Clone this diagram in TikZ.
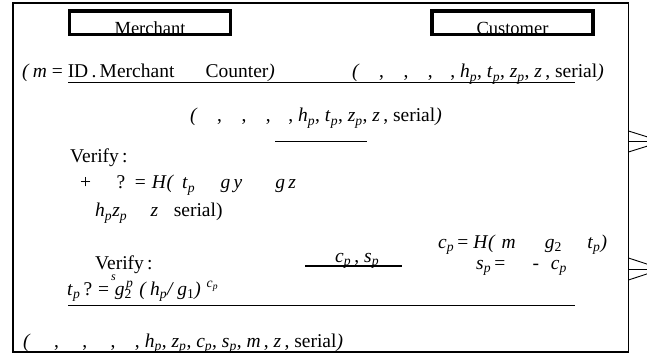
\documentclass[tikz,border=0pt]{standalone}
\usepackage{fontspec}
\setmainfont{Liberation Serif}
\newcommand{\vi}[1]{\textit{#1}}
\newcommand{\vs}[2]{\textit{#1}\textsubscript{\textit{#2}}}
\newcommand{\tuplerow}{\vi{(}\hspace{1.0em},\hspace{1.0em},\hspace{1.0em},\hspace{0.9em}, \vs{h}{p}, \vs{t}{p}, \vs{z}{p}, \vi{z}\,, serial\vi{)}}
\begin{document}
\begin{tikzpicture}[x=1pt,y=-1pt,
  lbl/.style={inner sep=0pt, anchor=base west, font=\fontsize{19.5}{22}\selectfont},
  smalllbl/.style={inner sep=0pt, anchor=base west, font=\fontsize{12}{13}\selectfont},
  rolebox/.style={draw, line width=3.5pt, minimum width=161pt, minimum height=23.5pt, inner sep=0pt},
  roletext/.style={inner sep=0pt, anchor=base, font=\fontsize{18.5}{20}\selectfont},
  msgline/.style={line width=1.4pt},
  tipline/.style={line width=0.9pt}]
\useasboundingbox (0,0) rectangle (647,355);
\clip (0,0) rectangle (647,355);
% frame
\draw[line width=1.1pt] (13,3) rectangle (628.5,352);
\draw[line width=2pt] (13,3) -- (13,352);
\draw[line width=1.6pt] (13,352) -- (628.5,352);
% roles
\node[rolebox] (merchant) at (150,23) {};
\node[roletext] (merchanttxt) at (150,34.5) {Merchant};
\node[rolebox] (customer) at (512.5,23) {};
\node[roletext] (customertxt) at (512.5,34.5) {Customer};
% row 1
\node[lbl] (r1l) at (22,78) {\vi{(}\,\vi{m} = ID\,.\,Merchant\hspace{1.6em}Counter\vi{)}};
\node[lbl] (r1r) at (352,78) {\tuplerow};
\coordinate (l1a) at (68,82.5);
\coordinate (l1b) at (575,82.5);
\draw[msgline] (l1a) -- (l1b);
% row 2
\node[lbl] (r2) at (190,122) {\tuplerow};
\coordinate (l2a) at (275,141.5);
\coordinate (l2b) at (367,141.5);
\draw[msgline] (l2a) -- (l2b);
% verify 1
\node[lbl] (v1) at (70,163) {Verify\,:};
\node[lbl] (v1a) at (80,189) {+\hspace{1.3em}?\hspace{0.5em}=\hspace{0.3em}\vi{H}\vi{(}\hspace{0.4em}\vs{t}{p}\hspace{1.3em}\vi{g}\,\vi{y}\hspace{1.7em}\vi{g}\,\vi{z}};
\node[lbl] (v1b) at (95,217) {\vs{h}{p}\vs{z}{p}\hspace{1.2em}\vi{z}\hspace{0.8em}serial)};
% signature message
\node[lbl] (cpsp) at (335,262) {\vs{c}{p}\,, \vs{s}{p}};
\coordinate (l3a) at (305,266);
\coordinate (l3b) at (402,266);
\draw[msgline] (l3a) -- (l3b);
\node[lbl] (cp) at (438,248) {\vs{c}{p}\,= \vi{H}\vi{(}\hspace{0.3em}\vi{m}\hspace{1.5em}\vi{g}\textsubscript{2}\hspace{1.3em}\vs{t}{p}\vi{)}};
\node[lbl] (sp) at (476,269) {\vs{s}{p}\,=\hspace{1.4em}-\hspace{0.6em}\vs{c}{p}};
% verify 2
\node[lbl] (v2) at (95,269) {Verify\,:};
\node[smalllbl] (sup1) at (111,280) {\vi{s}};
\node[lbl] (v2a) at (67,295) {\vs{t}{p}\,?\hspace{0.3em}=\hspace{0.3em}\vi{g}\textsubscript{2}\hspace{-0.3em}\textsuperscript{\vi{p}}\hspace{0.3em}\vi{(}\,\vs{h}{p}\vi{/}\,\vi{g}\textsubscript{1}\vi{)}\hspace{0.3em}\textsuperscript{\vs{c}{p}}};
\coordinate (l4a) at (68,305.5);
\coordinate (l4b) at (575,305.5);
\draw[msgline] (l4a) -- (l4b);
% bottom row
\node[lbl] (r5) at (23,347) {\vi{(}\hspace{1.2em},\hspace{1.2em},\hspace{1.2em},\hspace{1.0em}, \vs{h}{p}, \vs{z}{p}, \vs{c}{p}, \vs{s}{p}, \vi{m}\,, \vi{z}\,, serial\vi{)}};
% arrow tips at right border
\coordinate (t1a) at (628.5,131);
\coordinate (t1tip) at (662,141.5);
\coordinate (t1b) at (628.5,152);
\coordinate (t1e) at (647,141.5);
\draw[tipline] (t1a) -- (t1tip) -- (t1b);
\draw[tipline] (t1a |- t1e) -- (t1e);
\coordinate (t2a) at (628.5,258);
\coordinate (t2tip) at (662,269);
\coordinate (t2b) at (628.5,280);
\coordinate (t2e) at (647,269);
\draw[tipline] (t2a) -- (t2tip) -- (t2b);
\draw[tipline] (t2a |- t2e) -- (t2e);
\end{tikzpicture}
\end{document}
